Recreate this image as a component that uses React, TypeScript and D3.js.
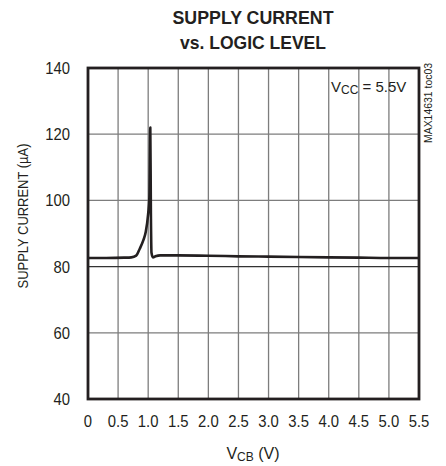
import React, { useEffect, useRef } from 'react';
import * as d3 from 'd3';

// measured curve (V, µA)
const vcb = [0, 0.3, 0.6, 0.72, 0.8, 0.86, 0.92, 0.96, 1.0, 1.02, 1.035, 1.045, 1.055, 1.08, 1.12, 1.2, 1.5, 2.0, 2.5, 3.0, 3.5, 4.0, 4.5, 5.0, 5.5];
const current = [82.6, 82.6, 82.7, 82.8, 83.3, 85.4, 88, 90.5, 96, 101, 122, 96, 84.2, 82.8, 83.1, 83.4, 83.4, 83.3, 83.1, 83.0, 82.9, 82.8, 82.7, 82.6, 82.6];

const xTicks = [0, 0.5, 1.0, 1.5, 2.0, 2.5, 3.0, 3.5, 4.0, 4.5, 5.0, 5.5];
const yTicks = [40, 60, 80, 100, 120, 140];

// narrow-ish width for digit labels (Arial metrics, squeezed)
const labelLength = (s: string, fs: number) =>
  s.split('').reduce((a, c) => a + (c === '.' ? 0.278 : 0.556), 0) * fs * 0.9;

const App = () => {
  const ref = useRef<SVGSVGElement>(null);

  useEffect(() => {
    if (!ref.current) return;
    const svg = d3.select(ref.current);
    svg.selectAll('*').remove();

    const left = 88, right = 419, top = 68, bottom = 399;
    const x = d3.scaleLinear().domain([0, 5.5]).range([left, right]);
    const y = d3.scaleLinear().domain([40, 140]).range([bottom, top]);
    const font = 'Arial, "Liberation Sans", Helvetica, sans-serif';
    const ink = '#231f20';

    // title
    svg.append('text')
      .attr('x', 253).attr('y', 24)
      .attr('text-anchor', 'middle')
      .attr('font-family', font).attr('font-weight', 'bold').attr('font-size', 19)
      .attr('textLength', 161).attr('lengthAdjust', 'spacingAndGlyphs')
      .attr('fill', ink)
      .text('SUPPLY CURRENT');
    svg.append('text')
      .attr('x', 253).attr('y', 49)
      .attr('text-anchor', 'middle')
      .attr('font-family', font).attr('font-weight', 'bold').attr('font-size', 19)
      .attr('textLength', 146).attr('lengthAdjust', 'spacingAndGlyphs')
      .attr('fill', ink)
      .text('vs. LOGIC LEVEL');

    // grid
    const g = svg.append('g');
    g.selectAll('line.v')
      .data(xTicks.slice(1, -1))
      .enter().append('line')
      .attr('x1', d => x(d)).attr('x2', d => x(d))
      .attr('y1', top).attr('y2', bottom)
      .attr('stroke', '#7d7d7d').attr('stroke-width', 1.3);
    g.selectAll('line.h')
      .data(yTicks.slice(1, -1))
      .enter().append('line')
      .attr('x1', left).attr('x2', right)
      .attr('y1', d => y(d)).attr('y2', d => y(d))
      .attr('stroke', d => (d === 80 ? '#333' : '#7d7d7d')).attr('stroke-width', 1.3);

    // VCC label
    const vcc = svg.append('text')
      .attr('x', 331).attr('y', 92)
      .attr('font-family', font).attr('font-size', 15)
      .attr('fill', ink);
    vcc.append('tspan').text('V');
    vcc.append('tspan').attr('font-size', 12).attr('dy', 2).text('CC');
    vcc.append('tspan').attr('dy', -2).text(' = 5.5V');

    // frame
    svg.append('rect')
      .attr('x', left).attr('y', top)
      .attr('width', right - left).attr('height', bottom - top)
      .attr('fill', 'none').attr('stroke', ink).attr('stroke-width', 2.8);

    // curve
    const pts = vcb.map((v, i) => [v, current[i]] as [number, number]);
    const line = d3.line<[number, number]>()
      .x(d => x(d[0]))
      .y(d => y(d[1]))
      .curve(d3.curveMonotoneX);
    svg.append('path')
      .datum(pts)
      .attr('fill', 'none')
      .attr('stroke', ink)
      .attr('stroke-width', 2.6)
      .attr('stroke-linejoin', 'round')
      .attr('d', line);

    // tick labels
    const fs = 16.5;
    svg.selectAll('text.xt')
      .data(xTicks)
      .enter().append('text')
      .attr('x', d => x(d)).attr('y', 427)
      .attr('text-anchor', 'middle')
      .attr('font-family', font).attr('font-size', fs)
      .attr('textLength', d => labelLength(d === 0 ? '0' : d.toFixed(1), fs))
      .attr('lengthAdjust', 'spacingAndGlyphs')
      .attr('fill', ink)
      .text(d => (d === 0 ? '0' : d.toFixed(1)));
    svg.selectAll('text.yt')
      .data(yTicks)
      .enter().append('text')
      .attr('x', 70).attr('y', d => y(d) + 6)
      .attr('text-anchor', 'end')
      .attr('font-family', font).attr('font-size', fs)
      .attr('textLength', d => labelLength(String(d), fs))
      .attr('lengthAdjust', 'spacingAndGlyphs')
      .attr('fill', ink)
      .text(d => d);

    // axis titles
    const xl = svg.append('text')
      .attr('x', 253).attr('y', 459)
      .attr('text-anchor', 'middle')
      .attr('font-family', font).attr('font-size', 16)
      .attr('fill', ink);
    xl.append('tspan').text('V');
    xl.append('tspan').attr('font-size', 12).attr('dy', 2).text('CB');
    xl.append('tspan').attr('dy', -2).text(' (V)');

    svg.append('text')
      .attr('transform', 'translate(28,216) rotate(-90)')
      .attr('text-anchor', 'middle')
      .attr('font-family', font).attr('font-size', 15.5)
      .attr('textLength', 145).attr('lengthAdjust', 'spacingAndGlyphs')
      .attr('fill', ink)
      .text('SUPPLY CURRENT (µA)');

    svg.append('text')
      .attr('transform', 'translate(432,103) rotate(-90)')
      .attr('text-anchor', 'middle')
      .attr('font-family', font).attr('font-size', 10)
      .attr('textLength', 80).attr('lengthAdjust', 'spacingAndGlyphs')
      .attr('fill', ink)
      .text('MAX14631 toc03');
  }, []);

  return (
    <svg
      ref={ref}
      width={446}
      height={466}
      style={{ position: 'absolute', left: 0, top: 0, background: '#fff' }}
    />
  );
};

export default App;
